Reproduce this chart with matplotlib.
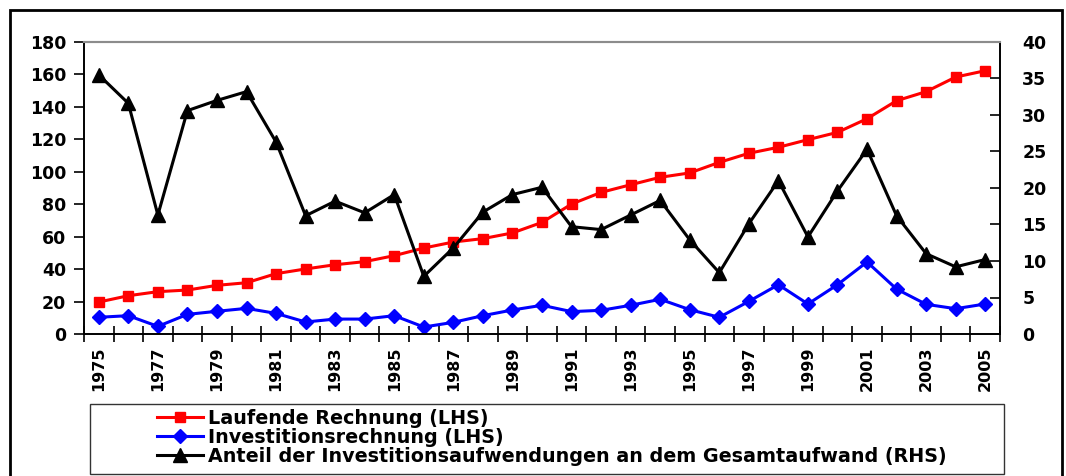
import numpy as np
import matplotlib
matplotlib.use("Agg")
import matplotlib.pyplot as plt
from matplotlib.patches import Rectangle

years = list(range(1975, 2006))

# current account (LHS)
laufende = [19.7, 23.6, 26.1, 27.1, 30.0, 31.6, 37.2, 40.1, 42.7, 44.6,
            48.3, 53.0, 56.7, 58.8, 62.3, 68.8, 80.1, 87.3, 92.0, 96.6,
            99.3, 105.8, 111.4, 115.1, 119.8, 124.3, 132.7, 143.8, 149.4, 158.4,
            162.3]

# investment account (LHS)
investition = [10.3, 11.3, 4.7, 12.1, 14.0, 15.8, 12.7, 7.4, 9.2, 9.2,
               11.3, 4.3, 7.2, 11.3, 14.8, 17.7, 13.8, 14.6, 17.7, 21.4,
               15.0, 10.3, 20.1, 30.4, 18.5, 30.4, 44.4, 27.7, 18.3, 15.6,
               18.5]

# share of investment spending in total spending (RHS)
anteil = [35.5, 31.6, 16.3, 30.6, 32.0, 33.2, 26.3, 16.2, 18.2, 16.6,
          19.1, 7.9, 11.8, 16.7, 19.1, 20.1, 14.7, 14.3, 16.3, 18.3,
          12.9, 8.4, 15.1, 21.0, 13.3, 19.6, 25.3, 16.2, 11.0, 9.2,
          10.2]

labels = ["Laufende Rechnung (LHS)",
          "Investitionsrechnung (LHS)",
          "Anteil der Investitionsaufwendungen an dem Gesamtaufwand (RHS)"]

plt.rcParams['font.family'] = ['DejaVu Sans']
plt.rcParams['font.weight'] = 'bold'

W, H = 1066, 476
fig = plt.figure(figsize=(W / 100, H / 100), dpi=100)
ax = fig.add_axes([84 / W, 142 / H, 916 / W, 292 / H])
ax2 = ax.twinx()

x = np.arange(len(years))

l1, = ax.plot(x, laufende, color='#ff0000', lw=2.2, marker='s', ms=7.5,
              label=labels[0])
l2, = ax.plot(x, investition, color='#0000ff', lw=2.2, marker='D', ms=7,
              label=labels[1])
l3, = ax2.plot(x, anteil, color='black', lw=2.2, marker='^', ms=9.5,
               label=labels[2])

ax.set_xlim(-0.5, len(years) - 0.5)
ax.set_ylim(0, 180)
ax.set_yticks(range(0, 181, 20))
ax2.set_ylim(0, 40)
ax2.set_yticks(range(0, 41, 5))

# tick marks between categories, labels on every second year
ax.set_xticks(np.arange(-0.5, len(years), 1.0))
ax.set_xticklabels([])
ax.tick_params(axis='x', which='major', direction='inout', length=12, width=1.2)
ax.set_xticks(x[::2], minor=True)
ax.set_xticklabels([str(y) for y in years[::2]], minor=True, rotation=90,
                   fontsize=11.5, fontweight='bold')
ax.tick_params(axis='x', which='minor', length=0, pad=9)

ax.tick_params(axis='y', direction='out', length=7, width=1.2, labelsize=12.5,
               pad=6)
ax2.tick_params(axis='y', direction='in', length=7, width=1.2, labelsize=12.5,
                pad=16)
for t in ax.get_yticklabels() + ax2.get_yticklabels():
    t.set_fontweight('bold')

for a in (ax, ax2):
    for s in ('left', 'right', 'bottom'):
        a.spines[s].set_linewidth(1.2)
        a.spines[s].set_color('black')
    a.spines['top'].set_color('#8c8c8c')
    a.spines['top'].set_linewidth(1.5)

# legend box below the plot
fig.patches.append(Rectangle((90 / W, 2 / H), 914 / W, 70 / H,
                             transform=fig.transFigure, fill=False,
                             edgecolor='#333333', lw=1))
fig.legend(handles=[l1, l2, l3], loc='upper left',
           bbox_to_anchor=(147 / W, 1 - 399 / H), frameon=False,
           borderpad=0, labelspacing=0.0, handlelength=2.4,
           handletextpad=0.3, prop={'size': 13.8, 'weight': 'bold'})

# outer chart frame
fig.patches.append(Rectangle((10 / W, -10 / H), 1052 / W, 466 / H + 10 / H,
                             transform=fig.transFigure, fill=False,
                             edgecolor='black', lw=2, clip_on=False))

fig.savefig("out.png", dpi=100)
